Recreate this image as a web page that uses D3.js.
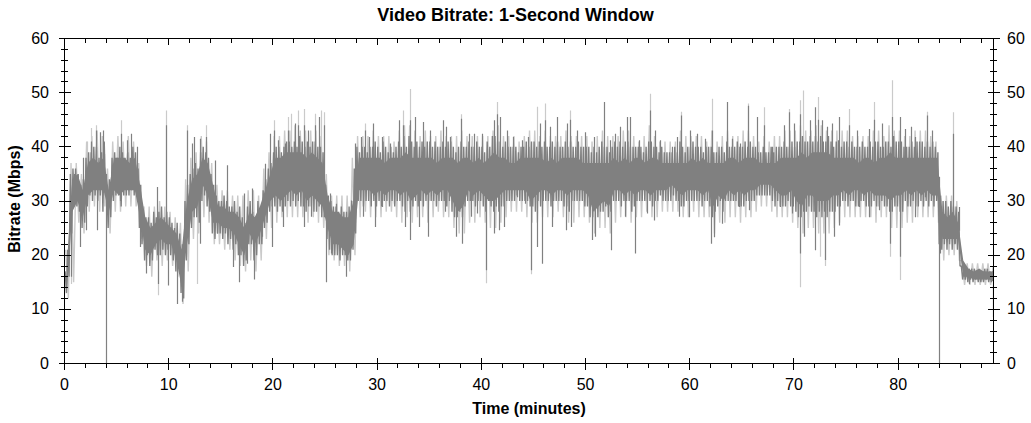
<!DOCTYPE html>
<html><head><meta charset="utf-8">
<script src="https://cdn.jsdelivr.net/npm/d3@7"></script>
<style>body{margin:0;background:#fff}svg{display:block}</style>
</head><body><svg id="c" width="1031" height="423"></svg>
<script>
// ---- DATA ----
// Dark trace: solid core band, one value per half-minute (one row = 5 minutes)
const coreStep = 0.5;
const coreLo = [
 14,28,30,27,31,32,32,32,28,32, 31,32,32,32,27,21,20,22,23,22,
 22,19,14,22,28,29,33,31,26,26, 25,25,24,22,20,24,22,24,27,30,
 31,30,31,32,31,32,30,31,30,29, 25,22,22,21,20,22,32,32,32,31,
 32,31,32,32,31,32,30,31,32,31, 32,31,32,32,30,28,29,32,31,32,
 31,30,30,31,32,32,32,32,32,30, 31,32,32,31,32,32,31,32,32,32,
 31,28,29,30,29,32,32,31,32,31, 32,32,31,32,32,32,33,32,31,32,
 32,32,31,32,29,31,30,32,31,32, 31,32,32,33,33,33,32,31,31,32,
 30,29,31,31,30,30,30,31,31,32, 31,32,32,31,32,31,31,31,30,31,
 31,32,31,32,31,32,31,31,23,23, 23,23,16,16,15.5,15.5,15.5,15.5,15];
const coreHi = [
 19,34,35,32,37,38,37,38,32,38, 38,38,37,38,33,27,25,26,27,26,
 25,24,21,30,34,35,38,37,33,29, 29,28,28,27,25,28,27,29,32,35,
 38,38,39,39,39,39,38,39,38,37, 31,28,28,27,27,30,38,38,38,38,
 38,37,38,38,38,39,38,38,38,38, 38,37,38,38,38,37,38,38,37,38,
 37,38,39,38,38,37,37,38,38,38, 38,38,37,38,37,38,38,38,38,37,
 37,37,37,37,37,38,37,38,37,38, 38,37,38,38,37,37,37,37,37,37,
 38,37,38,37,37,37,37,38,38,37, 38,38,38,37,37,37,37,38,38,38,
 38,39,38,39,39,39,39,38,38,38, 38,38,37,38,38,37,38,38,39,38,
 38,38,38,38,38,38,38,38,28,27, 28,26,19,17.5,17,17.5,17,17,17];
// Dark trace: highest / lowest value in each quarter-minute (one row = 5 minutes)
const darkStep = 0.25;
const darkMax = [
 17,21,35,36, 36,35,33,34, 38,39,39,40, 40,38,39,41, 33,34,38,39,
 38,40,39,38, 39,38,40,39, 36,33,28,27, 27,26,28,27, 28,29,27,28,
 27,26,25,26, 24,22,30,33, 35,36,37,36, 39,40,39,38, 35,33,31,30,
 30,31,30,29, 29,30,28,29, 27,26,29,30, 28,27,30,29, 32,34,36,37,
 39,40,40,39, 40,41,41,40, 41,40,42,41, 40,41,40,41, 41,40,40,39,
 33,31,30,29, 29,28,29,28, 28,29,30,36, 40,39,40,40, 39,40,40,41,
 40,39,41,40, 39,40,39,40, 41,40,42,40, 42,41,40,41, 40,41,40,41,
 41,40,41,40, 40,41,40,41, 41,40,39,40, 41,40,40,41, 40,40,41,40,
 40,39,41,40, 42,42,41,41, 40,41,40,40, 40,40,39,40, 40,41,40,41,
 41,40,41,40, 41,40,40,41, 40,41,40,40, 41,40,41,40, 40,41,40,40,
 40,40,39,40, 39,40,41,40, 40,39,40,41, 40,41,40,41, 41,40,40,40,
 40,40,39,40, 41,41,40,40, 39,40,39,39, 39,39,40,39, 41,40,39,40,
 40,41,40,40, 40,39,40,40, 40,39,39,40, 40,39,41,40, 40,40,41,40,
 40,41,40,41, 40,40,39,39, 40,39,39,40, 39,40,40,40, 41,40,40,41,
 40,41,41,42, 41,41,42,41, 42,41,42,41, 41,42,41,40, 41,40,40,41,
 41,40,41,40, 40,40,41,40, 40,41,40,41, 41,40,40,41, 41,40,42,41,
 41,41,40,40, 40,41,40,41, 41,41,40,41, 40,41,40,39, 29,30,30,29,
 30,29,29,28, 18,17.5,17.5,17.5, 17.5,17.5,17,17.5, 17,17.5,17.5,17, 17];
const darkMin = [
 13,16,24,29, 29,28,25,26, 29,31,30,31, 30,31,28,31, 25,27,30,31,
 31,29,31,31, 31,32,31,32, 25,22,19,20, 18,19,21,20, 20,21,20,21,
 20,19,17,18, 13,12,19,22, 25,27,27,26, 30,31,29,28, 24,23,24,24,
 23,24,22,23, 21,22,20,20, 18,19,22,22, 19,20,22,22, 25,26,28,29,
 29,28,29,28, 29,30,29,30, 29,30,29,29, 28,29,29,28, 28,29,27,27,
 23,21,20,20, 20,19,20,20, 19,19,21,24, 30,30,29,30, 30,29,30,29,
 30,29,30,30, 29,30,29,30, 30,29,28,30, 28,29,30,29, 30,29,30,30,
 30,30,29,30, 30,30,29,30, 28,27,27,28, 27,29,30,30, 30,29,30,30,
 29,28,30,29, 28,29,28,29, 29,30,30,30, 30,31,30,30, 30,30,29,29,
 28,30,29,30, 30,30,29,30, 30,30,30,29, 29,28,30,30, 30,30,30,29,
 29,27,27,28, 27,28,28,29, 27,28,30,30, 30,29,30,30, 30,28,29,30,
 30,30,30,30, 30,29,30,30, 31,30,30,30, 30,31,30,30, 29,29,30,30,
 30,30,30,30, 29,30,30,29, 27,28,29,30, 28,30,30,30, 30,30,29,29,
 29,30,30,30, 30,31,31,31, 31,31,31,30, 29,30,29,29, 29,30,29,29,
 28,27,27,28, 28,29,28,28, 27,28,27,28, 27,28,28,28, 29,29,30,30,
 29,30,30,29, 29,30,30,29, 29,29,30,29, 29,30,29,29, 28,28,29,29,
 28,28,30,29, 29,30,29,29, 30,29,30,29, 30,29,30,22, 21,22,21,22,
 21,22,21,18, 15.5,15.5,15,15.5, 15,15.5,15,15, 15,15.5,15,15, 15];
// Light trace: highest / lowest value in each half-minute (one row = 10 minutes)
const lightStep = 0.5;
const lightMax = [
 21,37,37,35,41,42,43,42,36,41,42,41,42,41,37,29,29,29,30,29,
 28,27,26,34,38,39,42,41,37,33,32,32,31,31,31,32,32,31,36,39,
 42,42,43,43,44,43,43,43,43,42,35,31,31,31,31,38,42,42,42,43,
 42,42,42,41,43,44,44,43,42,43,42,42,43,42,42,42,43,42,42,42,
 42,42,43,44,42,42,42,41,42,43,43,42,43,42,42,42,43,42,42,42,
 42,41,42,43,42,42,42,43,43,42,41,42,44,42,41,41,41,41,43,42,
 42,42,42,41,43,41,42,43,42,42,43,43,42,41,42,41,42,42,43,43,
 43,44,43,43,44,44,43,43,43,43,43,42,42,42,42,43,43,42,44,43,
 43,42,42,43,43,43,42,41,31,31,31,30,19,18.5,18.5,18.5,18.5,18.5,18];
const lightMin = [
 12,15,26,24,28,29,28,29,24,28,28,29,29,29,23,18,16,19,18,19,
 18,16,11,17,23,24,27,26,22,22,21,21,19,18,17,19,17,19,23,25,
 26,27,27,27,27,27,26,27,26,25,20,19,18,18,17,20,27,28,27,27,
 27,28,28,27,26,27,26,27,27,26,27,28,27,27,25,24,24,26,26,27,
 26,25,25,26,27,28,28,28,27,26,26,27,27,27,28,27,26,26,27,27,
 26,24,25,25,24,26,27,27,26,27,27,28,27,27,28,28,28,28,27,27,
 28,27,27,27,24,26,26,27,27,26,27,27,28,29,29,28,27,27,27,26,
 25,24,25,25,24,24,24,25,26,27,27,27,27,27,27,26,27,27,25,25,
 25,26,26,27,27,27,27,26,19,20,20,19,14.5,14.5,14.5,14.5,14.5,14.5,14];
// Individual spikes [minute, Mbps]
const darkPeaks = [[0.87,35],[1.76,38],[2.53,41],[3.04,43],[3.36,42.7],[3.68,43],[3.8,38.7],[5.41,42.4],[5.98,41.2],[6.37,42.4],[6.94,40],[8.85,32.6],[9.76,44],[11.74,43],[12.2,40.6],[12.45,41.8],[12.96,41.5],[13.57,41.8],[14.4,37.5],[15.6,36.6],[17.2,31.4],[18.04,32.3],[19.2,36.9],[19.74,42.4],[20.06,43],[20.5,41.2],[21.18,40.6],[21.43,43],[22.14,44.3],[22.4,44],[23.03,44],[23.35,43],[24.0,44],[24.4,45.5],[24.9,44],[25.5,31.4],[26.1,29.5],[27.5,30.1],[27.9,40.6],[28.47,41.8],[28.79,43],[29.24,41.8],[29.56,44.3],[30.46,41.8],[31.26,40.6],[32.06,44.9],[32.5,44],[33.12,44.9],[33.6,45.5],[34.4,44.6],[35.03,43],[36.3,44.9],[36.57,43.7],[37,41.8],[38.07,45.2],[38.8,42.4],[39.26,42.4],[40.06,42.4],[41.24,44.9],[41.5,46],[41.75,45.5],[42.46,43],[43.03,41.8],[43.9,41.2],[44.5,41.8],[44.79,39.4],[45.65,44.3],[46.13,44.9],[46.61,43.7],[47.28,45.5],[48.2,44.3],[48.53,45],[49.17,43],[49.97,42.7],[50.77,41.8],[51.73,48.3],[52.37,41.2],[52.85,42.4],[53.33,43.7],[53.97,45.5],[54.3,45.5],[55.09,41.2],[56.14,46.7],[56.69,43],[57.17,41.2],[58.3,40],[58.77,41.8],[59.12,45.8],[60.05,43],[60.7,42.4],[61.5,41.5],[62.13,43],[63.57,48.3],[64.05,41.5],[64.85,40.6],[65.58,47.6],[66.45,45.5],[67.15,44],[67.89,40],[69,44],[69.49,46.4],[69.97,44.3],[70.54,46],[71.57,44.9],[72.05,47.3],[72.3,45],[72.69,44.9],[73.17,43.7],[73.65,44.3],[74.2,41.2],[74.28,45.5],[75.24,44],[76.04,43],[77.16,43.3],[77.73,45],[78.44,44.3],[79.4,45.5],[80.13,45.5],[80.68,43.3],[81.25,43.7],[81.64,41.8],[82.76,45.8],[83.24,43],[85.22,42.4],[85.8,28.9]];
const lightPeaks = [[2.2,41],[2.53,43.5],[3.04,44],[5.41,44.9],[9.76,46.7],[11.74,44],[13.57,44],[20.06,44.9],[21.43,45.5],[21.75,46.1],[22.4,46.7],[23.03,47],[24.0,46.1],[24.6,46.7],[24.9,46.4],[28.79,44.3],[32.5,46.7],[33.12,50.7],[38.07,46],[41.5,48.3],[45.33,47.4],[46.13,48],[48.53,46.7],[56.14,49.8],[59.12,46.5],[62.13,48.9],[65.58,48],[67.15,47.3],[69.49,47],[70.54,48.6],[70.83,50.4],[72.3,49.2],[75.24,47],[77.73,48.3],[79.4,52.3],[82.76,46.5],[85.22,46.4]];
const darkDips = [[0.6,16],[1.5,21.5],[2.1,24.6],[3.1,24.6],[3.97,0],[4.32,28.3],[5.35,30],[7.2,21.5],[7.84,16.6],[9.02,14.7],[9.89,14.4],[10.78,11],[11.26,11.4],[12.96,22.1],[14.6,24],[15.1,24],[16.2,17.8],[16.76,15],[17.5,18.4],[18.14,15.5],[18.94,23.4],[19.96,21.5],[21,25.2],[22.94,25.2],[23.7,27.1],[25.08,15],[25.6,20.3],[27.03,16],[27.4,20.9],[28.6,27.1],[29.82,25.2],[30.46,28.9],[31.58,29.5],[32.7,25.2],[33.12,22.8],[33.98,25.2],[34.84,23.4],[36.54,28],[37.6,23.4],[38.14,22.1],[39,27.1],[39.58,27.7],[40.47,17.2],[41.24,24],[41.66,24.6],[42.2,25.2],[43.4,30.7],[44.2,29.5],[44.75,17.2],[45.33,21.5],[45.87,18.4],[46.77,25.2],[48.11,24.6],[48.62,25.2],[50.61,22.8],[50.93,23.4],[52.46,20.9],[53.81,27.1],[54.77,20.3],[55.89,27.7],[56.53,26.4],[58.99,27.1],[59.9,27],[62.03,22.1],[62.3,23.3],[63.09,25.8],[64.69,28.9],[65.65,28.3],[68.69,28.9],[69.8,27.7],[70.6,20.3],[70.99,23.4],[72.05,20.9],[73,19.1],[73.8,23.4],[74.28,25.5],[76.2,28.9],[77.16,27],[78.12,28.3],[79.24,22.1],[80.13,19.7],[81.64,27],[82.6,30.7],[83.88,0],[84.04,20.3],[84.84,23.4],[85.48,22.1],[86.76,14.7],[89.06,8.6]];
const lightDips = [[0.6,14.7],[9.02,12.6],[12.7,14.7],[40.47,14.8],[44.75,16.5],[70.6,14.1],[72.46,19.7],[73,18],[79.24,19.7],[80.13,15.4]];
const xTicks = [0,10,20,30,40,50,60,70,80];
const yTicks = [0,10,20,30,40,50,60];
const xMax = 89.15;

// ---- DRAW ----
const svg = d3.select("#c");
const L=64.5, R=993.5, T=38.5, B=363.5;
const x = d3.scaleLinear().domain([0,xMax]).range([L,R]);
const y = d3.scaleLinear().domain([0,60]).range([B,T]);
const DARK="#808080", LIGHT="#cacaca";
const FONT="'Liberation Sans', Arial, sans-serif";

svg.append("defs").append("clipPath").attr("id","plot")
  .append("rect").attr("x",L).attr("y",T).attr("width",R-L).attr("height",B-T);
const g = svg.append("g").attr("clip-path","url(#plot)");

function zig(maxA,minA,step){
  const pts=[];
  maxA.forEach((v,i)=>{
    pts.push([i*step+step*0.25, v]);
    pts.push([i*step+step*0.75, minA[i]]);
  });
  return pts;
}
const line = d3.line().x(d=>x(d[0])).y(d=>y(d[1]));
const corePts = coreLo.map((v,i)=>({t:i*coreStep+coreStep/2, lo:v, hi:coreHi[i]}));
const area = d3.area().x(d=>x(d.t)).y0(d=>y(d.lo)).y1(d=>y(d.hi));
function mid(t){
  const i = Math.max(0, Math.min(coreLo.length-1, Math.floor(t/coreStep)));
  return (coreLo[i]+coreHi[i])/2;
}
function spikes(data,color){
  g.append("g").selectAll("line").data(data).join("line")
    .attr("x1",d=>Math.round(x(d[0]))+0.5).attr("x2",d=>Math.round(x(d[0]))+0.5)
    .attr("y1",d=>y(mid(d[0]))).attr("y2",d=>y(d[1]))
    .attr("stroke",color).attr("stroke-width",1.2);
}

g.append("path").datum(zig(lightMax,lightMin,lightStep)).attr("d",line)
  .attr("fill","none").attr("stroke",LIGHT).attr("stroke-width",1.4).attr("stroke-linejoin","bevel");
spikes(lightPeaks,LIGHT);
spikes(lightDips,LIGHT);
g.append("path").datum(corePts).attr("d",area).attr("fill",DARK);
g.append("path").datum(zig(darkMax,darkMin,darkStep)).attr("d",line)
  .attr("fill","none").attr("stroke",DARK).attr("stroke-width",1.4).attr("stroke-linejoin","bevel");
spikes(darkPeaks,DARK);
spikes(darkDips,DARK);

// ---- AXES ----
const ax = svg.append("g").attr("stroke","#000").attr("stroke-width",1).attr("shape-rendering","crispEdges");
ax.append("rect").attr("x",L).attr("y",T).attr("width",R-L).attr("height",B-T).attr("fill","none");
const xMinor = d3.range(0,xMax,2);
const yMinor = d3.range(0,61,2);
ax.append("g").selectAll("line").data(xMinor).join("line").attr("x1",d=>x(d)).attr("x2",d=>x(d)).attr("y1",B-1).attr("y2",B+4);
ax.append("g").selectAll("line").data(xTicks).join("line").attr("x1",d=>x(d)).attr("x2",d=>x(d)).attr("y1",B-6).attr("y2",B+6);
ax.append("g").selectAll("line").data(xMinor).join("line").attr("x1",d=>x(d)).attr("x2",d=>x(d)).attr("y1",T).attr("y2",T+4);
ax.append("g").selectAll("line").data(xTicks).join("line").attr("x1",d=>x(d)).attr("x2",d=>x(d)).attr("y1",T).attr("y2",T+6);
[L,R].forEach(X0=>{
  ax.append("g").selectAll("line").data(yMinor).join("line").attr("x1",X0-3.5).attr("x2",X0+3.5).attr("y1",d=>y(d)).attr("y2",d=>y(d));
  ax.append("g").selectAll("line").data(yTicks).join("line").attr("x1",X0-6).attr("x2",X0+6).attr("y1",d=>y(d)).attr("y2",d=>y(d));
});

const tx = svg.append("g").attr("font-family",FONT).attr("fill","#000");
tx.append("g").selectAll("text").data(xTicks).join("text").attr("x",d=>x(d)).attr("y",389.5).attr("text-anchor","middle").attr("font-size",16).text(d=>d);
tx.append("g").selectAll("text").data(yTicks).join("text").attr("x",49).attr("y",d=>y(d)+5).attr("text-anchor","end").attr("font-size",16).text(d=>d);
tx.append("g").selectAll("text").data(yTicks).join("text").attr("x",1007).attr("y",d=>y(d)+5).attr("text-anchor","start").attr("font-size",16).text(d=>d);
tx.append("text").attr("x",515.5).attr("y",21).attr("text-anchor","middle").attr("font-size",18).attr("font-weight","bold").text("Video Bitrate: 1-Second Window");
tx.append("text").attr("x",529).attr("y",413.5).attr("text-anchor","middle").attr("font-size",16).attr("font-weight","bold").text("Time (minutes)");
tx.append("text").attr("transform","translate(20,199) rotate(-90)").attr("text-anchor","middle").attr("font-size",16).attr("font-weight","bold").text("Bitrate (Mbps)");
</script></body></html>
